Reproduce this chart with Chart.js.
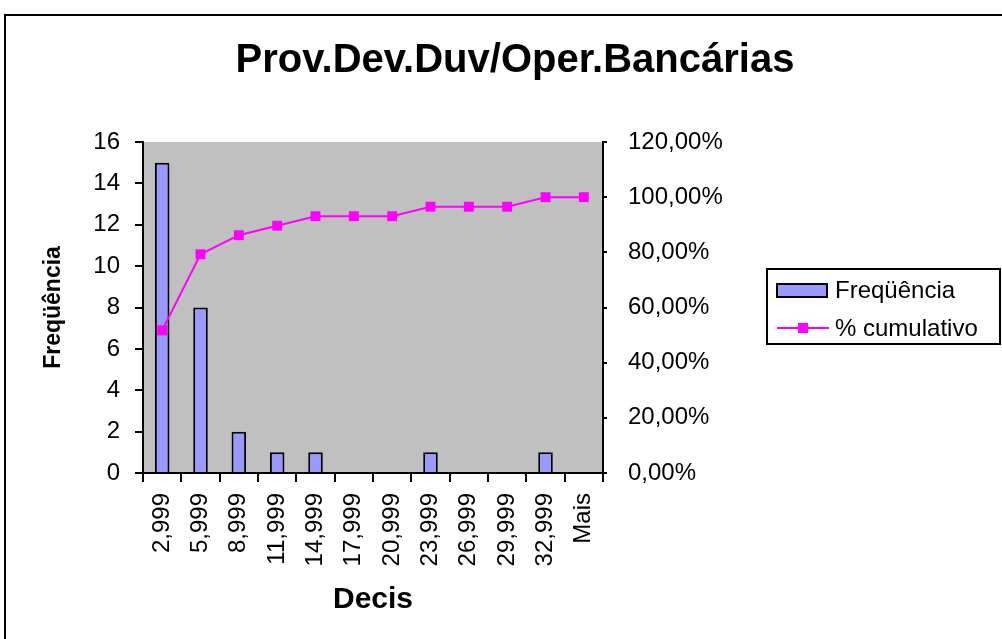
<!DOCTYPE html>
<html>
<head>
<meta charset="utf-8">
<script src="https://cdn.jsdelivr.net/npm/chart.js@4/dist/chart.umd.min.js"></script>
<style>
    html, body { margin: 0; padding: 0; background: #fff; }
    #caixa { width: 1002px; height: 639px; position: relative; }
</style>
</head>
<body>
<div id="caixa"><canvas id="histChart"></canvas></div>
<script>
// Dados do histograma
var categorias = ['2,999', '5,999', '8,999', '11,999', '14,999', '17,999', '20,999', '23,999', '26,999', '29,999', '32,999', 'Mais'];
var frequencia = [15, 8, 2, 1, 1, 0, 0, 1, 0, 0, 1, 0];
var cumulativo = [51.72, 79.31, 86.21, 89.66, 93.10, 93.10, 93.10, 96.55, 96.55, 96.55, 100.00, 100.00]; // em %
var titulo = 'Prov.Dev.Duv/Oper.Bancárias';

var corBarra = '#9999FF';
var corLinha = '#FF00FF';

Chart.defaults.font.family = "'Liberation Sans', Arial, sans-serif";
Chart.defaults.color = '#000';

// fundo cinza da area do grafico, moldura e legenda
var molduraPlugin = {
    id: 'moldura',
    beforeDraw: function (chart) {
        var ctx = chart.ctx;
        var a = chart.chartArea;
        ctx.save();
        ctx.fillStyle = '#C0C0C0';
        ctx.fillRect(a.left, a.top, a.right - a.left, a.bottom - a.top);
        ctx.restore();
    },
    afterDraw: function (chart) {
        var ctx = chart.ctx;
        var ds = chart.data.datasets;
        ctx.save();
        ctx.strokeStyle = '#000';
        ctx.lineWidth = 2;
        ctx.strokeRect(5, 15, 1100, 700);

        // legenda
        ctx.lineWidth = 2;
        ctx.strokeRect(767, 269, 233, 75);
        ctx.fillStyle = ds[0].backgroundColor;
        ctx.fillRect(777, 284, 50, 13);
        ctx.lineWidth = 2;
        ctx.strokeRect(777, 284, 50, 13);

        ctx.strokeStyle = ds[1].borderColor;
        ctx.lineWidth = 2;
        ctx.beginPath();
        ctx.moveTo(777, 328);
        ctx.lineTo(829, 328);
        ctx.stroke();
        ctx.fillStyle = ds[1].pointBackgroundColor;
        ctx.fillRect(798, 323, 10, 10);

        ctx.fillStyle = '#000';
        ctx.font = "24px 'Liberation Sans', Arial, sans-serif";
        ctx.textBaseline = 'middle';
        ctx.textAlign = 'left';
        ctx.fillText(ds[0].label, 835, 291);
        ctx.fillText(ds[1].label, 835, 329);
        ctx.restore();
    }
};

var config = {
    type: 'bar',
    data: {
        labels: categorias,
        datasets: [{
            type: 'bar',
            label: 'Freqüência',
            data: frequencia,
            backgroundColor: corBarra,
            borderColor: '#000',
            borderWidth: 2,
            barPercentage: 0.38,
            categoryPercentage: 1,
            yAxisID: 'y',
            order: 2
        }, {
            type: 'line',
            label: '% cumulativo',
            data: cumulativo,
            borderColor: corLinha,
            borderWidth: 2,
            backgroundColor: corLinha,
            pointBackgroundColor: corLinha,
            pointBorderWidth: 0,
            pointStyle: 'rect',
            pointRadius: 7,
            tension: 0,
            yAxisID: 'y1',
            order: 1
        }]
    },
    options: {
        responsive: true,
        maintainAspectRatio: false,
        animation: false,
        layout: { padding: { left: 28, right: 0, top: 0, bottom: 0 } },
        plugins: {
            legend: { display: false },
            tooltip: { enabled: false },
            title: {
                display: true,
                text: titulo,
                color: '#000',
                font: { size: 40, weight: 'bold' },
                padding: { top: 37, bottom: 57 }
            }
        },
        scales: {
            x: {
                afterFit: function (scale) { scale.height = 166; },
                grid: {
                    drawOnChartArea: false,
                    tickLength: 9,
                    lineWidth: 2,
                    color: '#000'
                },
                border: { display: true, color: '#000', width: 2 },
                ticks: {
                    autoSkip: false,
                    minRotation: 90,
                    maxRotation: 90,
                    padding: 11,
                    font: { size: 24 }
                },
                title: {
                    display: true,
                    text: 'Decis',
                    font: { size: 30, weight: 'bold' },
                    padding: { top: 4, bottom: 21 }
                }
            },
            y: {
                position: 'left',
                min: 0,
                max: 16,
                afterFit: function (scale) { scale.width = 115; },
                grid: {
                    drawOnChartArea: false,
                    tickLength: 8,
                    lineWidth: 2,
                    color: '#000'
                },
                border: { display: true, color: '#000', width: 2 },
                ticks: { stepSize: 2, padding: 15, font: { size: 24 } },
                title: {
                    display: true,
                    text: 'Freqüência',
                    font: { size: 23, weight: 'bold' },
                    padding: { top: 12, bottom: 4 }
                }
            },
            y1: {
                position: 'right',
                min: 0,
                max: 120,
                afterFit: function (scale) { scale.width = 399; },
                grid: {
                    drawOnChartArea: false,
                    tickLength: 4,
                    lineWidth: 2,
                    color: '#000'
                },
                border: { display: true, color: '#000', width: 2 },
                ticks: {
                    stepSize: 20,
                    padding: 21,
                    font: { size: 24 },
                    callback: function (v) { return v.toFixed(2).replace('.', ',') + '%'; }
                }
            }
        }
    },
    plugins: [molduraPlugin]
};

var ctx = document.getElementById('histChart');
window.myBar = new Chart(ctx, config);
</script>
</body>
</html>
